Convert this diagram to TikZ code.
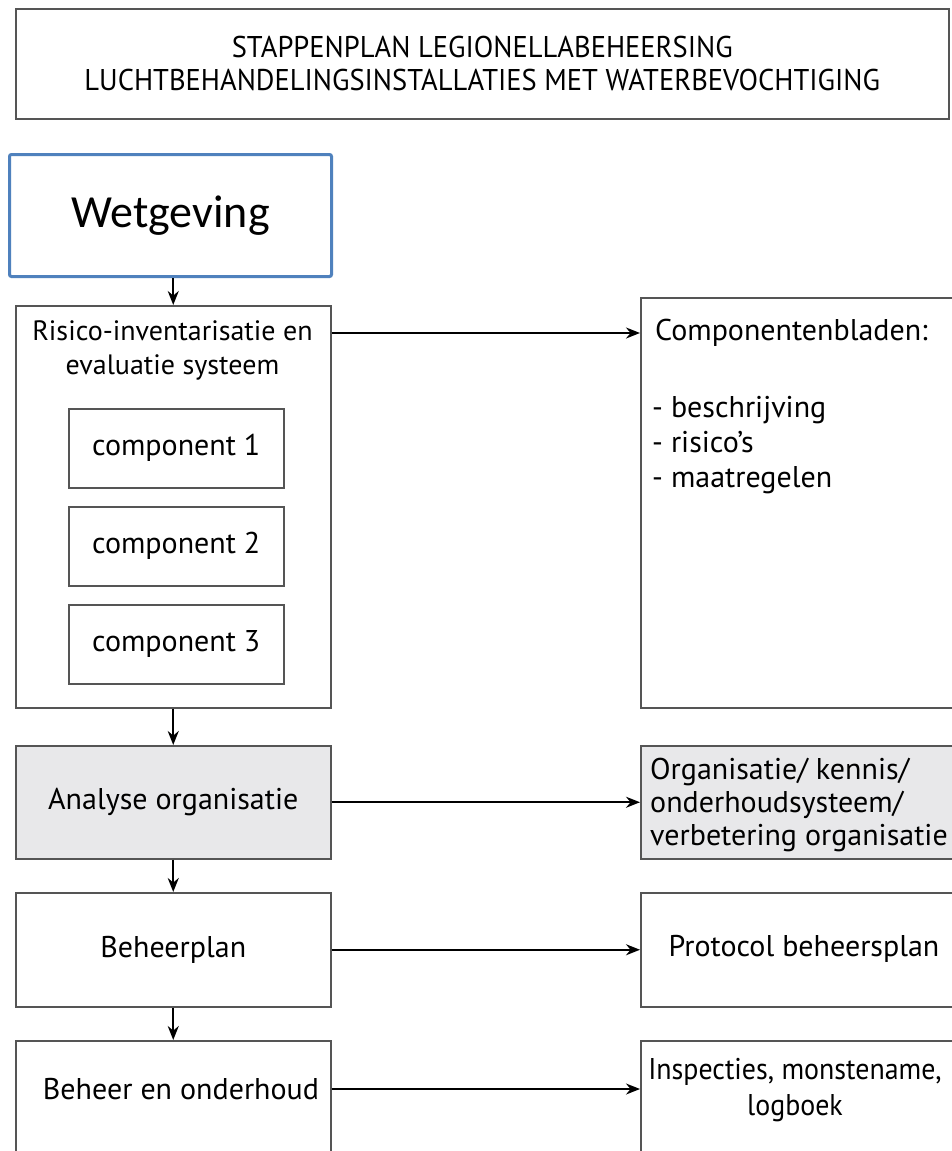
\documentclass[tikz,border=0pt]{standalone}
\usepackage{fontspec}
\setmainfont{PT Sans}
\newfontfamily\calibrifont{Carlito}
\newfontfamily\narrowfont[FakeStretch=0.95]{PT Sans}
\newfontfamily\inspfont[FakeStretch=0.93]{PT Sans}
\usetikzlibrary{arrows.meta}
\definecolor{boxgray}{HTML}{555555}
\definecolor{wetblue}{HTML}{4F81BD}
\definecolor{lightfill}{HTML}{E8E8EA}
\begin{document}
\begin{tikzpicture}[x=1pt,y=-1pt,
  box/.style={draw=boxgray, line width=1.5pt, inner sep=0pt, anchor=north west},
  txt/.style={inner sep=0pt, font=\fontsize{30}{34}\selectfont},
  arr/.style={draw=black, line width=1.8pt, -{Stealth[length=14pt,width=11pt]}}]
\clip (0,0) rectangle (952,1151);
\fill[white] (0,0) rectangle (952,1151);
% title
\node[box, minimum width=933pt, minimum height=110pt] (title) at (15,8) {};
\node[inner sep=0pt, align=center, font=\narrowfont\fontsize{30}{33}\selectfont] (titletext) at (title.center)
  {STAPPENPLAN LEGIONELLABEHEERSING\\LUCHTBEHANDELINGSINSTALLATIES MET WATERBEVOCHTIGING};
% wetgeving
\node[draw=wetblue, line width=3pt, rounded corners=2pt, anchor=north west, minimum width=322pt, minimum height=122pt,
  font=\calibrifont\fontsize{46}{48}\selectfont] (wet) at (8,153) {Wetgeving};
% left column
\node[box, minimum width=315pt, minimum height=402pt] (risico) at (15,305) {};
\node[txt, align=center, font=\fontsize{28}{34}\selectfont] (risicotext) at (172.5,350) {Risico-inventarisatie en\\evaluatie systeem};
\node[box, minimum width=215pt, minimum height=79pt, txt] (c1) at (68,408) {component 1};
\node[box, minimum width=215pt, minimum height=79pt, txt] (c2) at (68,506) {component 2};
\node[box, minimum width=215pt, minimum height=79pt, txt] (c3) at (68,604) {component 3};
\node[box, fill=lightfill, minimum width=315pt, minimum height=113pt, txt] (analyse) at (15,745) {Analyse organisatie};
\node[box, minimum width=315pt, minimum height=114pt, txt] (plan) at (15,892) {Beheerplan};
\node[box, minimum width=315pt, minimum height=140pt] (beheer) at (15,1040) {};
\node[txt] (beheertext) at (181,1089) {Beheer en onderhoud};
% right column
\node[box, minimum width=330pt, minimum height=410pt] (compbl) at (640,297) {};
\node[txt, anchor=west] (comptitle) at (655,333) {Componentenbladen:};
\node[txt, anchor=north west, align=left, font=\fontsize{30}{35}\selectfont] (complist) at (652,396) {- beschrijving\\- risico's\\- maatregelen};
\node[box, fill=lightfill, minimum width=330pt, minimum height=113pt] (org) at (640,745) {};
\node[txt, anchor=west, align=left, font=\fontsize{30}{33}\selectfont] (orgtext) at (650,805)
  {Organisatie/ kennis/\\onderhoudsysteem/\\verbetering organisatie};
\node[box, minimum width=330pt, minimum height=114pt] (prot) at (640,892) {};
\node[txt] (prottext) at (804,949) {Protocol beheersplan};
\node[box, minimum width=330pt, minimum height=140pt] (insp) at (640,1040) {};
\node[txt, align=center, font=\inspfont\fontsize{30}{36}\selectfont] (insptext) at (795,1090)
  {Inspecties, monstename,\\logboek};
% vertical arrows
\draw[arr] (wet.south -| risico.north) -- (risico.north);
\draw[arr] (risico) -- (analyse);
\draw[arr] (analyse) -- (plan);
\draw[arr] (plan.south) -- (beheer.north -| plan.south);
% horizontal arrows
\draw[arr] (risico.east |- comptitle) -- (compbl.west |- comptitle);
\draw[arr] (analyse) -- (org);
\draw[arr] (plan) -- (prot);
\draw[arr] (beheer.east |- beheertext) -- (insp.west |- beheertext);
\end{tikzpicture}
\end{document}
